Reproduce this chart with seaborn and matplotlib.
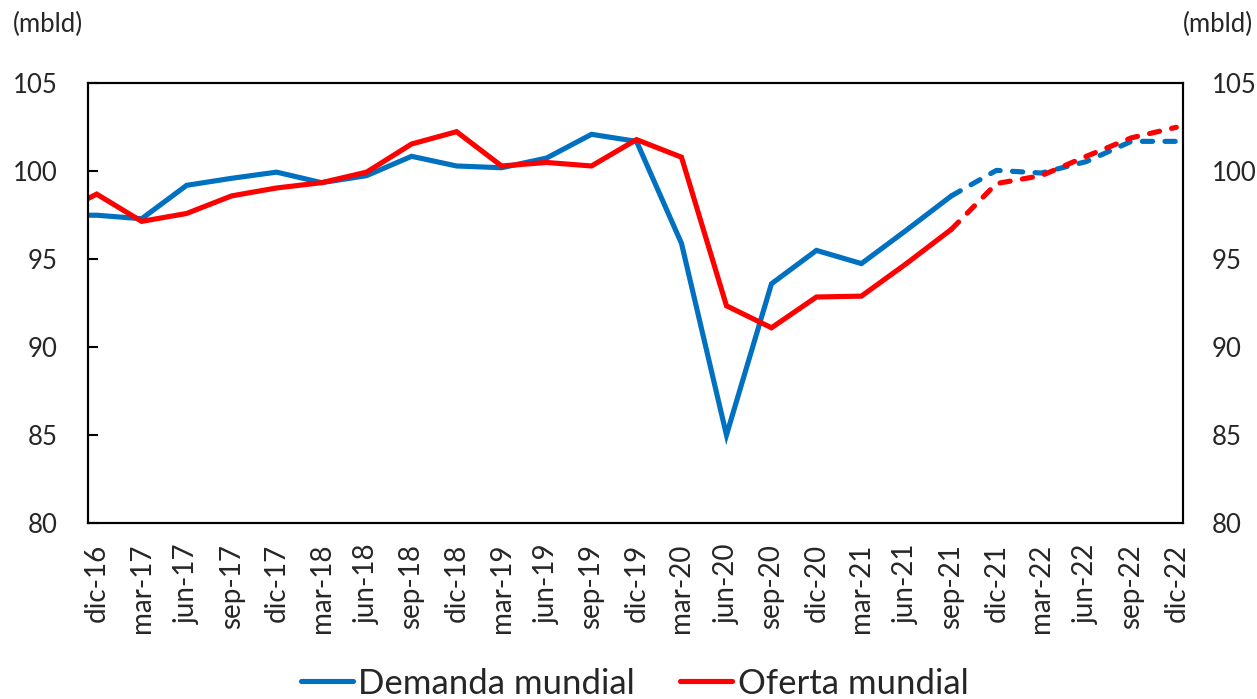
import numpy as np
import pandas as pd
import matplotlib
matplotlib.use("Agg")
import matplotlib.pyplot as plt
import seaborn as sns

# quarterly series, first value (sep-16) only feeds the clipped start of the line
quarters = ['sep-16', 'dic-16', 'mar-17', 'jun-17', 'sep-17', 'dic-17', 'mar-18', 'jun-18',
            'sep-18', 'dic-18', 'mar-19', 'jun-19', 'sep-19', 'dic-19', 'mar-20',
            'jun-20', 'sep-20', 'dic-20', 'mar-21', 'jun-21', 'sep-21', 'dic-21',
            'mar-22', 'jun-22', 'sep-22', 'dic-22']
demanda = [97.5, 97.5, 97.3, 99.2, 99.6, 99.95, 99.35, 99.75, 100.85, 100.3, 100.2,
           100.75, 102.1, 101.7, 95.9, 85.0, 93.6, 95.5, 94.75, 96.65, 98.6,
           100.05, 99.9, 100.55, 101.7, 101.7]
oferta = [97.4, 98.7, 97.15, 97.6, 98.6, 99.05, 99.35, 99.95, 101.55, 102.25, 100.3,
          100.5, 100.3, 101.8, 100.8, 92.35, 91.1, 92.85, 92.9, 94.75, 96.7,
          99.3, 99.75, 100.85, 101.9, 102.5]
first_proj = 'sep-21'   # dashed from here on
y_ticks = [80, 85, 90, 95, 100, 105]

BLUE = '#0070C0'
RED = '#FF0000'

sns.set_theme(style='white')
plt.rcParams['font.family'] = ['Lato', 'DejaVu Sans']

df = pd.DataFrame({'q': quarters, 'Demanda': demanda, 'Oferta': oferta})
# tick for each quarter sits at the index, the point itself a bit to the right
df['x'] = np.arange(len(df)) - 1 + 0.185
k = quarters.index(first_proj)
hist = df.iloc[:k + 1]
proj = df.iloc[k:]

fig = plt.figure(figsize=(12.57, 6.99), dpi=100)
ax = fig.add_axes([0.0703, 0.2518, 0.941 - 0.0703, 0.8808 - 0.2518])

lw = 3.7
dash = (0, (2.0, 2.4))
sns.lineplot(data=hist, x='x', y='Demanda', color=BLUE, linewidth=lw, ax=ax,
             label='Demanda mundial', solid_capstyle='round', solid_joinstyle='miter')
sns.lineplot(data=hist, x='x', y='Oferta', color=RED, linewidth=lw, ax=ax,
             label='Oferta mundial', solid_capstyle='round', solid_joinstyle='miter')
sns.lineplot(data=proj, x='x', y='Demanda', color=BLUE, linewidth=lw, ax=ax,
             linestyle=dash, dash_capstyle='round')
sns.lineplot(data=proj, x='x', y='Oferta', color=RED, linewidth=lw, ax=ax,
             linestyle=dash, dash_capstyle='round')

n = len(quarters) - 1
ax.set_xlim(0, n - 1 + 0.33)
ax.set_ylim(80, 105)
ax.set_xlabel('')
ax.set_ylabel('')

ax.set_xticks(df['x'].values[1:], quarters[1:], rotation=90, fontsize=20)
ax.set_xticks(np.arange(n), minor=True)
ax.tick_params(axis='x', which='major', length=0, pad=15)
ax.tick_params(axis='x', which='minor', direction='in', length=7, width=1.5, color='black')
ax.set_yticks(y_ticks, [str(v) for v in y_ticks], fontsize=18.5)
ax.tick_params(axis='y', direction='in', length=7, width=1.5, color='black', pad=22,
               left=True)

ax2 = ax.twinx()
ax2.set_ylim(80, 105)
ax2.set_yticks(y_ticks, [str(v) for v in y_ticks], fontsize=18.5)
ax2.tick_params(axis='y', length=0, pad=21)
ax2.grid(False)

for a in (ax, ax2):
    for s in a.spines.values():
        s.set_color('black')
        s.set_linewidth(1.5)
        s.set_visible(True)

fig.text(0.010, 0.965, '(mbld)', fontsize=18.5, ha='left', va='center')
fig.text(0.997, 0.965, '(mbld)', fontsize=18.5, ha='right', va='center')

ax.get_legend().remove()
h, l = ax.get_legend_handles_labels()
fig.legend(h, l, loc='center', bbox_to_anchor=(0.505, 0.022), ncol=2, frameon=False,
           fontsize=25, handlelength=1.5, handletextpad=0.15, columnspacing=1.3)

fig.savefig('out.png', dpi=100)
